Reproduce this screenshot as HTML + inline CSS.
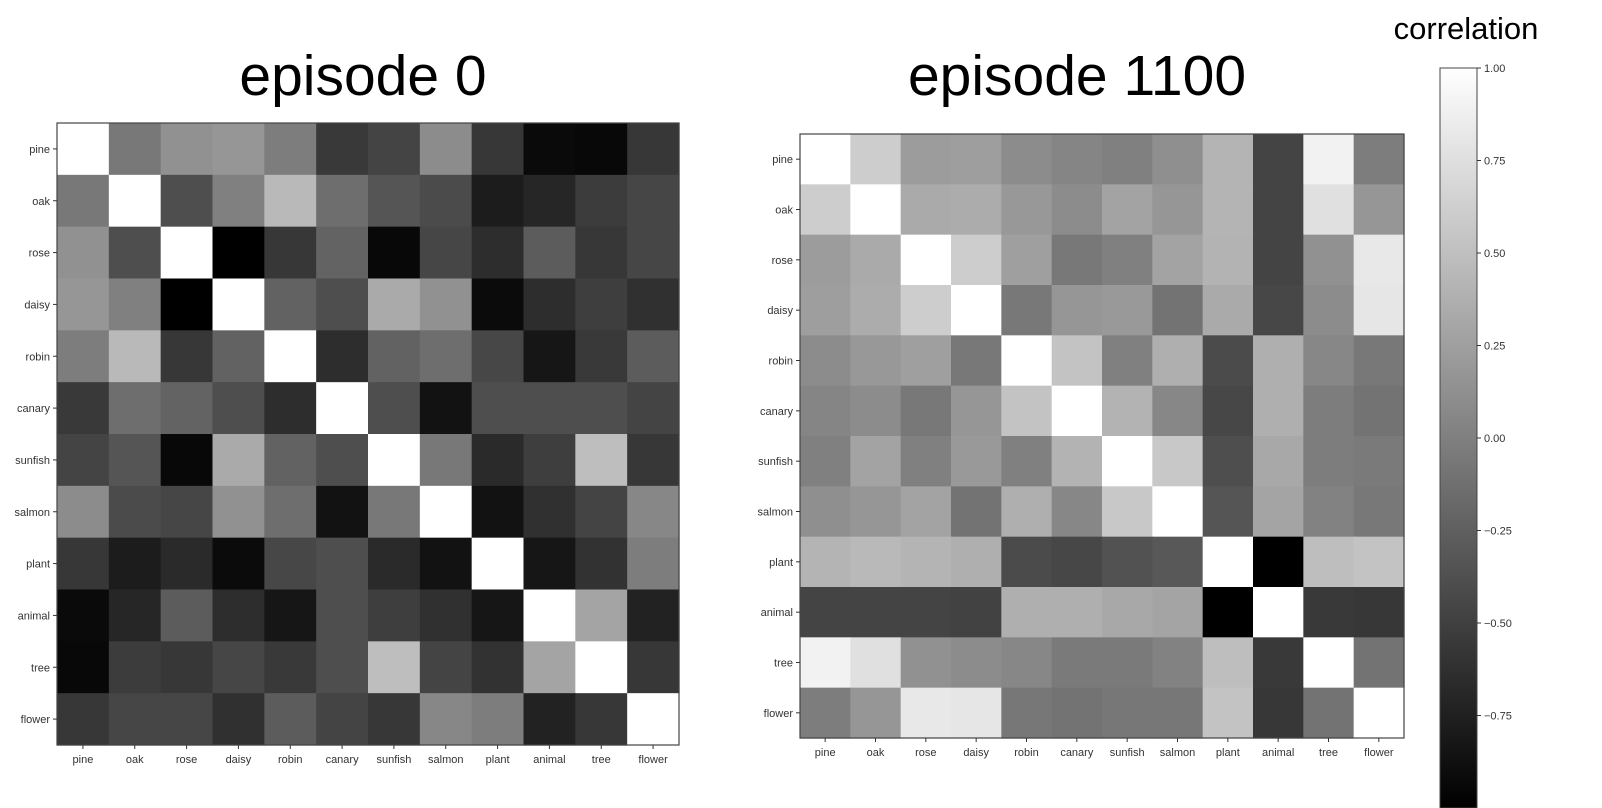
<!DOCTYPE html>
<html><head><meta charset="utf-8"><style>
body{margin:0;background:#fff;}
svg{display:block;font-family:"Liberation Sans","DejaVu Sans",sans-serif;}
</style></head><body>
<svg id="fig" width="1602" height="808" viewBox="0 0 1602 808">
<text x="363" y="95" font-size="57" text-anchor="middle" fill="#000">episode 0</text>
<text x="1077" y="95" font-size="57" text-anchor="middle" fill="#000">episode 1100</text>
<text x="1466" y="39" font-size="31" text-anchor="middle" fill="#000">correlation</text>
<g id="left"></g>
<g id="right"></g>
<g id="cbar"></g>
</svg>
<script>
const labels = ["pine","oak","rose","daisy","robin","canary","sunfish","salmon","plant","animal","tree","flower"];
const episode0 = [
[1,-.06,.14,.18,-.02,-.55,-.47,.10,-.57,-.92,-.94,-.57],
[-.06,1,-.39,0,.45,-.14,-.33,-.41,-.78,-.70,-.53,-.45],
[.14,-.39,1,-1,-.57,-.22,-.94,-.45,-.65,-.28,-.57,-.45],
[.18,0,-1,1,-.23,-.39,.33,.14,-.91,-.65,-.51,-.62],
[-.02,.45,-.57,-.23,1,-.65,-.23,-.14,-.44,-.83,-.55,-.28],
[-.55,-.14,-.22,-.39,-.65,1,-.39,-.86,-.39,-.39,-.39,-.47],
[-.47,-.33,-.94,.33,-.23,-.39,1,-.06,-.67,-.51,.49,-.57],
[.10,-.41,-.45,.14,-.14,-.86,-.06,1,-.86,-.62,-.47,.06],
[-.57,-.78,-.67,-.91,-.44,-.39,-.67,-.86,1,-.83,-.61,-.02],
[-.92,-.70,-.28,-.65,-.83,-.39,-.51,-.62,-.83,1,.29,-.73],
[-.94,-.53,-.57,-.45,-.55,-.39,.49,-.47,-.61,.29,1,-.57],
[-.57,-.45,-.45,-.62,-.28,-.47,-.57,.06,-.02,-.73,-.57,1]];
const episode1100 = [
[1,.61,.22,.24,.10,.04,0,.12,.41,-.47,.90,-.02],
[.61,1,.33,.35,.19,.10,.28,.18,.41,-.47,.76,.18],
[.22,.33,1,.61,.25,-.06,0,.28,.40,-.47,.14,.82],
[.24,.35,.61,1,-.06,.18,.20,-.10,.33,-.44,.10,.80],
[.10,.19,.25,-.06,1,.53,0,.37,-.41,.37,.06,-.06],
[.04,.10,-.06,.18,.53,1,.40,.06,-.44,.37,-.02,-.10],
[0,.28,0,.20,0,.40,1,.57,-.39,.32,-.02,-.04],
[.12,.18,.28,-.10,.37,.06,.57,1,-.33,.29,.02,-.06],
[.41,.45,.41,.37,-.41,-.44,-.36,-.31,1,-1,.49,.53],
[-.47,-.47,-.47,-.48,.37,.37,.32,.29,-1,1,-.55,-.57],
[.90,.76,.14,.10,.06,-.04,-.04,.02,.49,-.55,1,-.10],
[-.02,.18,.82,.80,-.07,-.10,-.07,-.07,.53,-.57,-.10,1]];
const cbarTicks = [1.00,0.75,0.50,0.25,0.00,-0.25,-0.50,-0.75];

const NS="http://www.w3.org/2000/svg";
function gray(v){const g=Math.round(Math.max(0,Math.min(255,(v+1)/2*255)));return `rgb(${g},${g},${g})`;}
function mk(t,a,p){const e=document.createElementNS(NS,t);for(const k in a)e.setAttribute(k,a[k]);p.appendChild(e);return e;}
function heat(gid,data,x0,y0,size,prefix){
  const g=document.getElementById(gid);const n=labels.length;const c=size/n;
  const xs=i=>x0+i*c, ys=i=>y0+i*c;
  data.forEach((row,r)=>row.forEach((v,k)=>{
    const e=mk('rect',{x:xs(k),y:ys(r),width:c+0.6,height:c+0.6,fill:gray(v)},g);
    
    
  }));
  const b=mk('rect',{x:x0,y:y0,width:size,height:size,fill:'none',stroke:'#444','stroke-width':1.2},g);
  
  
  labels.forEach((l,i)=>{
    const cy=ys(i)+c/2, cx=xs(i)+c/2;
    mk('line',{x1:x0-4,x2:x0,y1:cy,y2:cy,stroke:'#333'},g);
    mk('line',{x1:cx,x2:cx,y1:y0+size,y2:y0+size+4,stroke:'#333'},g);
    const ty=mk('text',{x:x0-7,y:cy+4,'font-size':11,'text-anchor':'end',fill:'#333'},g);ty.textContent=l;
    
    
    const tx=mk('text',{x:cx,y:y0+size+18,'font-size':11,'text-anchor':'middle',fill:'#333'},g);tx.textContent=l;
    
    
  });
}
heat('left',episode0,57,123,622,'left');
heat('right',episode1100,800,134,604,'right');
(function(){
  const g=document.getElementById('cbar');const x=1440,w=37,top=68,bot=808;
  const yv=v=>top+(1-v)/2*(bot-top);
  const defs=mk('defs',{},g);const lg=mk('linearGradient',{id:'cg',x1:0,y1:0,x2:0,y2:1},defs);
  mk('stop',{offset:0,'stop-color':'#fff'},lg);mk('stop',{offset:1,'stop-color':'#000'},lg);
  const r=mk('rect',{x:x,y:top,width:w,height:bot-top,fill:'url(#cg)',stroke:'#444','stroke-width':1},g);
  
  
  cbarTicks.forEach(v=>{
    const y=yv(v);
    mk('line',{x1:x+w,x2:x+w+4,y1:y,y2:y,stroke:'#333'},g);
    const t=mk('text',{x:x+w+7,y:y+4,'font-size':11,fill:'#333'},g);
    t.textContent=(v<0?'\u2212':'')+Math.abs(v).toFixed(2);
    
    
  });
})();
</script>
</body></html>
